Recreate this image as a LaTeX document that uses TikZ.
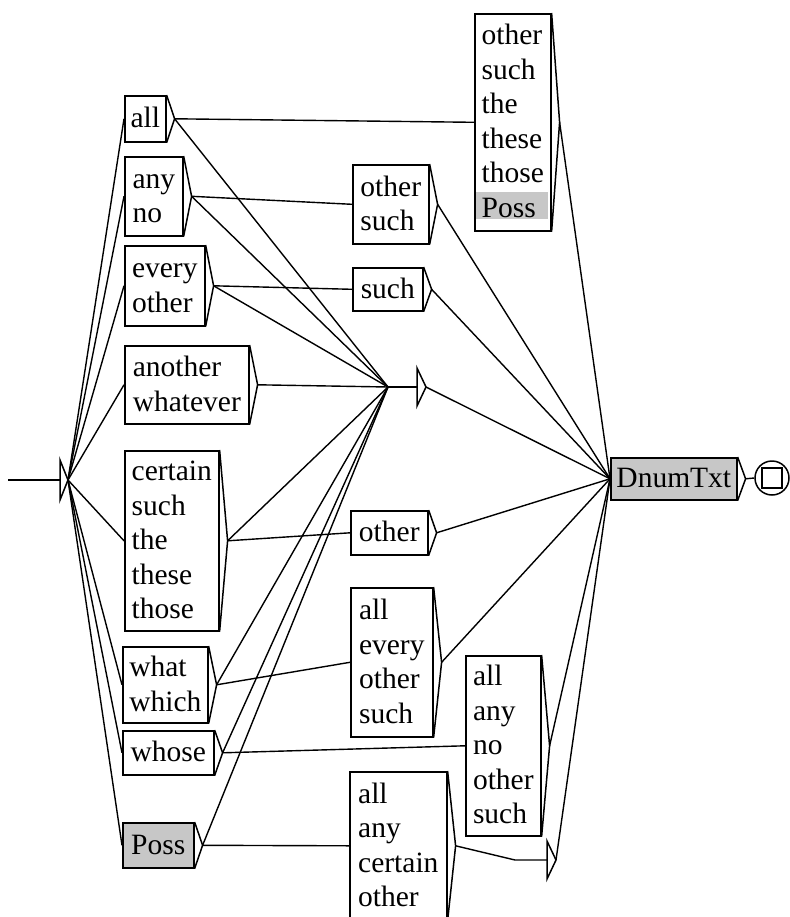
\documentclass[tikz,border=0pt]{standalone}
\usepackage{fontspec}
\setmainfont{Liberation Serif}
\usetikzlibrary{calc}
\newcommand\fsz{\fontsize{29.5}{34.5}\selectfont}
\newcommand\ts{\rule[-8.3pt]{0pt}{34.5pt}}
\tikzset{
  gbox/.style={draw, line width=1.6pt, inner sep=0pt, align=left, anchor=north west, font=\fsz},
  grayfill/.style={fill=black!22},
  conn/.style={line width=1.4pt},
  tabline/.style={line width=1.5pt, line join=miter},
}
\begin{document}
\begin{tikzpicture}[x=1pt, y=-1pt]
\useasboundingbox (0,0) rectangle (789,917);
% gray band behind Poss in the top right box
\fill[grayfill] (476,192) rectangle (548,219);
% left column
\node[gbox, minimum width=41pt, minimum height=46pt] (all) at (124,95) {\ts all};
\node[gbox, minimum width=58pt, minimum height=79pt] (anyno) at (124,156) {\ts any\\\ts no};
\node[gbox, minimum width=80pt, minimum height=80pt] (every) at (124,245) {\ts every\\\ts other};
\node[gbox, minimum width=124pt, minimum height=78pt] (another) at (124,345) {\ts another\\\ts whatever};
\node[gbox, minimum width=94pt, minimum height=180pt] (certain) at (124,450) {\ts certain\\\ts such\\\ts the\\\ts these\\\ts those};
\node[gbox, minimum width=85pt, minimum height=76pt] (what) at (122,646) {\ts what\\\ts which};
\node[gbox, minimum width=91pt, minimum height=44pt] (whose) at (122,730) {\ts whose};
\node[gbox, grayfill, minimum width=71pt, minimum height=45pt] (poss) at (122,822) {\ts Poss};
% middle and right
\node[gbox, minimum width=76pt, minimum height=217pt] (tr) at (474,13) {\ts other\\\ts such\\\ts the\\\ts these\\\ts those\\\ts Poss};
\node[gbox, minimum width=76pt, minimum height=79pt] (os) at (352,164) {\ts other\\\ts such};
\node[gbox, minimum width=70pt, minimum height=43pt] (such) at (352,267) {\ts such};
\node[gbox, minimum width=77pt, minimum height=44pt] (other) at (350,510) {\ts other};
\node[gbox, minimum width=82pt, minimum height=149pt] (aeos) at (350,587) {\ts all\\\ts every\\\ts other\\\ts such};
\node[gbox, minimum width=75pt, minimum height=180pt] (aanos) at (465,655) {\ts all\\\ts any\\\ts no\\\ts other\\\ts such};
\node[gbox, minimum width=97pt, minimum height=148pt] (aaco) at (349,771) {\ts all\\\ts any\\\ts certain\\\ts other};
\node[gbox, grayfill, minimum width=126pt, minimum height=42pt] (dnum) at (610,457) {\ts DnumTxt};
% tabs on the right of every box
\foreach \n in {all,anyno,every,another,certain,what,whose,poss,tr,os,such,other,aeos,aanos,aaco,dnum}{
  \coordinate (\n-t) at ([xshift=8pt]\n.east);
  \draw[tabline] (\n.north east) -- (\n-t) -- (\n.south east);
}
% empty (epsilon) boxes drawn as triangles
\coordinate (start) at (8,480);
\coordinate (init) at (60,480);
\coordinate (init-t) at (68,480);
\draw[tabline] (60,460) -- (init-t) -- (60,500) -- cycle;
\coordinate (hubin) at (388,387);
\coordinate (hub) at (417,387);
\coordinate (hub-t) at (426,387);
\draw[tabline] (417,368) -- (hub-t) -- (417,406) -- cycle;
\coordinate (botin) at (515,860);
\coordinate (bot) at (547,860);
\coordinate (bot-t) at (556,860);
\draw[tabline] (547,841) -- (bot-t) -- (547,879) -- cycle;
% final state
\node[circle, draw, line width=1.5pt, minimum size=34pt, inner sep=0pt] (fin) at (772,478) {};
\node[draw, line width=1.5pt, minimum size=20pt, inner sep=0pt] (finsq) at (772,478) {};
% connectors
\draw[conn] (start) -- (init);
\foreach \n in {all,anyno,every,another,certain,what,whose,poss}{
  \draw[conn] (init-t) -- (\n.west);
  \draw[conn] (\n-t) -- (hubin);
}
\draw[conn] (hubin) -- (hub);
\draw[conn] (all-t) -- (tr.west);
\draw[conn] (anyno-t) -- (os.west);
\draw[conn] (every-t) -- (such.west);
\draw[conn] (certain-t) -- (other.west);
\draw[conn] (what-t) -- (aeos.west);
\draw[conn] (whose-t) -- (aanos.west);
\draw[conn] (poss-t) -- (aaco.west);
\draw[conn] (aaco-t) -- (botin) -- (bot);
\foreach \n in {hub,tr,os,such,other,aeos,aanos,bot}{
  \draw[conn] (\n-t) -- (dnum.west);
}
\draw[conn] (dnum-t) -- (fin.west);
\end{tikzpicture}
\end{document}
